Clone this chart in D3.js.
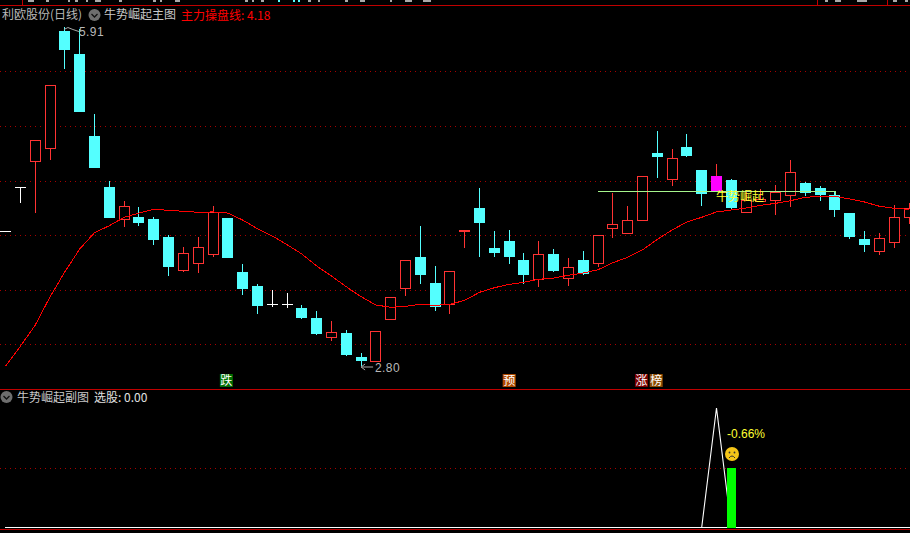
<!DOCTYPE html>
<html><head><meta charset="utf-8">
<style>html,body{margin:0;padding:0;background:#000;overflow:hidden}svg{display:block}text{font-family:"Noto Sans CJK SC","DejaVu Sans",sans-serif}</style>
<script src="https://cdnjs.cloudflare.com/ajax/libs/d3/7.8.5/d3.min.js"></script>
</head><body><svg id="chart" width="910" height="533"></svg>
<script>
const opens=[4.042,4.436,4.674,4.802,5.869,5.658,4.908,4.440,4.150,4.166,4.147,3.983,3.683,3.747,3.830,4.157,3.662,3.534,3.366,3.366,3.332,3.241,3.070,3.103,2.884,2.850,3.234,3.518,3.799,3.561,3.366,4.038,4.248,3.882,3.946,3.772,3.601,3.827,3.610,3.772,3.747,4.068,4.022,4.141,4.752,4.516,4.807,4.596,4.404,4.505,4.214,4.312,4.324,4.370,4.477,4.431,4.367,4.202,3.964,3.857,3.939,4.168];
const closes=[4.042,4.436,4.875,5.370,5.695,5.130,4.617,4.157,4.264,4.111,3.955,3.708,3.833,3.888,4.212,3.790,3.506,3.351,3.366,3.366,3.241,3.094,3.110,2.902,2.847,3.119,3.430,3.769,3.635,3.342,3.668,4.047,4.111,3.836,3.799,3.635,3.824,3.671,3.705,3.644,3.998,4.099,4.135,4.538,4.715,4.703,4.724,4.376,4.541,4.248,4.321,4.331,4.392,4.575,4.385,4.367,4.230,3.983,3.909,3.971,4.163,4.245];
const highs=[4.042,4.436,4.875,5.370,5.910,5.887,5.109,4.495,4.312,4.257,4.166,4.001,3.891,3.983,4.267,4.157,3.735,3.552,3.497,3.470,3.360,3.305,3.213,3.131,2.920,3.119,3.430,3.769,4.083,3.717,3.668,4.047,4.431,4.038,4.047,3.836,3.946,3.873,3.790,3.854,3.998,4.385,4.267,4.538,4.953,4.788,4.926,4.596,4.651,4.514,4.413,4.422,4.459,4.688,4.486,4.450,4.395,4.202,4.038,4.019,4.276,4.294];
const lows=[4.042,4.294,4.205,4.690,5.521,5.130,4.617,4.157,4.077,4.083,3.909,3.625,3.662,3.653,3.799,3.790,3.451,3.277,3.342,3.332,3.232,3.085,3.030,2.893,2.801,2.850,3.225,3.442,3.552,3.305,3.277,3.882,3.799,3.799,3.735,3.552,3.525,3.662,3.534,3.635,3.708,3.973,4.010,4.141,4.523,4.450,4.715,4.267,4.404,4.230,4.214,4.312,4.184,4.257,4.358,4.312,4.166,3.964,3.845,3.818,3.882,4.102];
const controlLine=[2.801,2.984,3.177,3.436,3.665,3.873,4.022,4.086,4.163,4.202,4.236,4.227,4.218,4.209,4.212,4.202,4.138,4.059,3.992,3.912,3.827,3.717,3.625,3.527,3.436,3.360,3.339,3.348,3.366,3.357,3.366,3.403,3.476,3.518,3.549,3.568,3.595,3.607,3.632,3.653,3.683,3.747,3.797,3.864,3.961,4.047,4.120,4.163,4.212,4.230,4.248,4.273,4.291,4.315,4.346,4.355,4.355,4.331,4.303,4.264,4.245,4.236];
const priceGrid=[5.5,5,4.5,4,3.5,3];
const subGrid=[50];
const subPeakIndex=[47,48,49];
const subPeakValues=[0,100,0];
const subBarIndex=[49];
const subBarValues=[50];
const highlightIndex=[48];
const pressureLevel=[4.405];
const pressureSpan=[40,56];
const badges=[{t:"跌",i:14.9,c:"#006f00"},{t:"预",i:34,c:"#b04a00"},{t:"涨",i:42.93,c:"#7a0000"},{t:"榜",i:43.93,c:"#8a4a00"}];

const RED="#ff3333",CYAN="#54ffff",GRID="#a80000",BORDER="#c00000";
const svg=d3.select("#chart");
svg.append("rect").attr("width",910).attr("height",533).attr("fill","#000");
const idx=d3.range(opens.length);
const x=d3.scaleLinear().domain([0,opens.length-1]).range([5.7,909]);
const y=d3.scaleLinear().domain([5.5,3]).range([71.3,344.3]);
const ySub=d3.scaleLinear().domain([0,100]).range([527.5,408]);
const px=v=>Math.round(v)+0.5;
const cx=i=>Math.floor(x(i));

// clipped remains of the toolbar row above the chart
const stripMarks=[[28,6,"#aaa"],[46,3,"#aaa"],[68,2,"#aaa"],[75,3,"#aaa"],[86,2,"#aaa"],[95,6,"#aaa"],[119,3,"#aaa"],[153,3,"#aaa"],[160,2,"#aaa"],[175,5,"#aaa"],[245,3,"#aaa"],[252,2,"#aaa"],[261,3,"#aaa"],[278,2,"#54ffff"],[293,2,"#54ffff"],[298,2,"#54ffff"],[308,3,"#aaa"],[318,2,"#aaa"],[345,3,"#aaa"],[360,5,"#aaa"],[390,2,"#aaa"],[405,7,"#aaa"],[423,8,"#aaa"],[825,3,"#aaa"],[835,6,"#aaa"],[857,10,"#aaa"],[893,4,"#aaa"],[905,3,"#aaa"]];
svg.append("g").attr("shape-rendering","crispEdges").selectAll("rect").data(stripMarks).join("rect")
 .attr("x",d=>d[0]).attr("y",0).attr("width",d=>d[1]).attr("height",2).attr("fill",d=>d[2]);
[22,817,887].forEach(v=>svg.append("line").attr("x1",v+.5).attr("x2",v+.5).attr("y1",0).attr("y2",5).attr("stroke",BORDER).attr("shape-rendering","crispEdges"));

// panels
const hline=(yy,stroke)=>svg.append("line").attr("x1",0).attr("x2",910).attr("y1",yy).attr("y2",yy).attr("stroke",stroke).attr("shape-rendering","crispEdges");
hline(5.5,BORDER);hline(389.5,BORDER);hline(529.5,BORDER);
svg.append("g").selectAll("line").data(priceGrid).join("line").attr("x1",0).attr("x2",910)
 .attr("y1",d=>px(y(d))).attr("y2",d=>px(y(d))).attr("stroke",GRID).attr("stroke-dasharray","1 4").attr("shape-rendering","crispEdges");
svg.append("g").selectAll("line").data(subGrid).join("line").attr("x1",0).attr("x2",910)
 .attr("y1",d=>px(ySub(d))).attr("y2",d=>px(ySub(d))).attr("stroke",GRID).attr("stroke-dasharray","1 4").attr("shape-rendering","crispEdges");

// candles
const colorOf=i=>closes[i]>opens[i]?RED:closes[i]<opens[i]?CYAN:"#fff";
const candles=svg.append("g").attr("shape-rendering","crispEdges");
candles.selectAll("line.w").data(idx).join("line").attr("class","w")
 .attr("x1",i=>cx(i)+.5).attr("x2",i=>cx(i)+.5).attr("y1",i=>y(highs[i])).attr("y2",i=>y(lows[i])).attr("stroke",colorOf);
candles.selectAll("rect.b").data(idx).join("rect").attr("class","b")
 .each(function(i){
   const isUp=closes[i]>opens[i],hi=highlightIndex.includes(i);
   const t=Math.round(y(Math.max(opens[i],closes[i]))),b=Math.round(y(Math.min(opens[i],closes[i])));
   const l=cx(i)-5;
   const s=d3.select(this);
   if(opens[i]===closes[i]){
     s.attr("x",l).attr("width",11).attr("y",t).attr("height",1).attr("fill","#fff");
   }else if(hi){
     s.attr("x",l).attr("width",11).attr("y",t).attr("height",b-t).attr("fill","#ff00ff");
   }else if(isUp){
     s.attr("x",l+.5).attr("width",10).attr("y",t+.5).attr("height",Math.max(1,b-t)).attr("fill","#000").attr("stroke",RED);
   }else{
     s.attr("x",l).attr("width",11).attr("y",t).attr("height",Math.max(1,b-t)).attr("fill",CYAN);
   }
 });

// control line
svg.append("path").datum(idx).attr("fill","none").attr("stroke","#ff0000").attr("stroke-width",1).attr("shape-rendering","crispEdges")
 .attr("d",d3.line().x(i=>x(i)).y(i=>y(controlLine[i])));

// pressure line
const py=px(y(pressureLevel[0]));
svg.append("path").attr("fill","none").attr("stroke","#a6f58c").attr("shape-rendering","crispEdges")
 .attr("d",d3.line()([[x(pressureSpan[0]),py],[x(pressureSpan[1])+.5,py],[x(pressureSpan[1])+.5,py+3]]));
svg.append("text").attr("x",716).attr("y",201).attr("fill","#ffff33").attr("font-size",12).text("牛势崛起");

// hi/low callouts
svg.append("path").attr("fill","none").attr("stroke","#aaa").attr("d",d3.line()([[x(4)-1,y(5.91)+3],[x(4)+3,y(5.91)+1],[x(4)+8,y(5.91)+3],[x(4)+14,y(5.91)+5]]));
svg.append("text").attr("x",79).attr("y",36).attr("fill","#b8b8b8").attr("font-size",12).attr("letter-spacing",.4).attr("style","font-family:'Liberation Sans'").text("5.91");
svg.append("path").attr("fill","none").attr("stroke","#aaa").attr("d",d3.line()([[x(24),367],[x(24)+12,367]]));
svg.append("path").attr("fill","none").attr("stroke","#aaa").attr("d",d3.line()([[x(24)+4,364],[x(24),367],[x(24)+4,370]]));
svg.append("text").attr("x",375).attr("y",372).attr("fill","#b8b8b8").attr("font-size",12).attr("letter-spacing",.4).attr("style","font-family:'Liberation Sans'").text("2.80");

// header
const label=(tx,ty,t,f,fs)=>svg.append("text").attr("x",tx).attr("y",ty).attr("fill",f).attr("font-size",fs||12).text(t);
label(2,19,"利欧股份(日线)","#b8b8b8");
label(104,19,"牛势崛起主图","#c8c8c8");
label(181,19.5,"主力操盘线: 4.18","#ff0000");
label(17,402,"牛势崛起副图","#c8c8c8");
label(94,402,"选股: 0.00","#e0e0e0");
const chev=(ccx,ccy)=>{
  svg.append("circle").attr("cx",ccx).attr("cy",ccy).attr("r",6).attr("fill","#6e6e6e");
  svg.append("path").attr("fill","none").attr("stroke","#111").attr("stroke-width",1.3).attr("d",d3.line()([[ccx-3,ccy-1],[ccx,ccy+2],[ccx+3,ccy-1]]));
};
chev(94.5,15);chev(6.5,397);

// badges
const bg=svg.append("g").selectAll("g").data(badges).join("g").attr("transform",d=>`translate(${x(d.i)-6.5},374)`);
bg.append("rect").attr("width",13).attr("height",13).attr("fill",d=>d.c);
bg.append("text").attr("x",6.5).attr("y",11).attr("text-anchor","middle").attr("font-size",12).attr("fill","#fff").text(d=>d.t);

// sub panel
svg.append("rect").attr("x",5).attr("y",527).attr("width",905).attr("height",1).attr("fill","#fff");
svg.append("path").attr("fill","none").attr("stroke","#fff").attr("stroke-width",1.1)
 .attr("d",d3.line().x((d,k)=>x(subPeakIndex[k])).y(d=>ySub(d))(subPeakValues));
svg.append("g").selectAll("rect").data(subBarIndex).join("rect").attr("shape-rendering","crispEdges")
 .attr("x",i=>cx(i)-4).attr("width",9)
 .attr("y",(i,k)=>Math.round(ySub(subBarValues[k]))).attr("height",(i,k)=>Math.round(ySub(0)-ySub(subBarValues[k]))).attr("fill","#00ff00");
svg.append("text").attr("x",727).attr("y",438).attr("fill","#ffff33").attr("font-size",12).attr("style","font-family:'Liberation Sans'").text("-0.66%");
const face=svg.append("g").attr("transform","translate(732,454)");
face.append("circle").attr("r",7).attr("fill","#f5c518");
face.append("circle").attr("cx",-2.5).attr("cy",-1.5).attr("r",.9).attr("fill","#333");
face.append("circle").attr("cx",2.5).attr("cy",-1.5).attr("r",.9).attr("fill","#333");
face.append("path").attr("fill","none").attr("stroke","#333").attr("d","M-3 4Q0 0 3 4");
</script></body></html>
